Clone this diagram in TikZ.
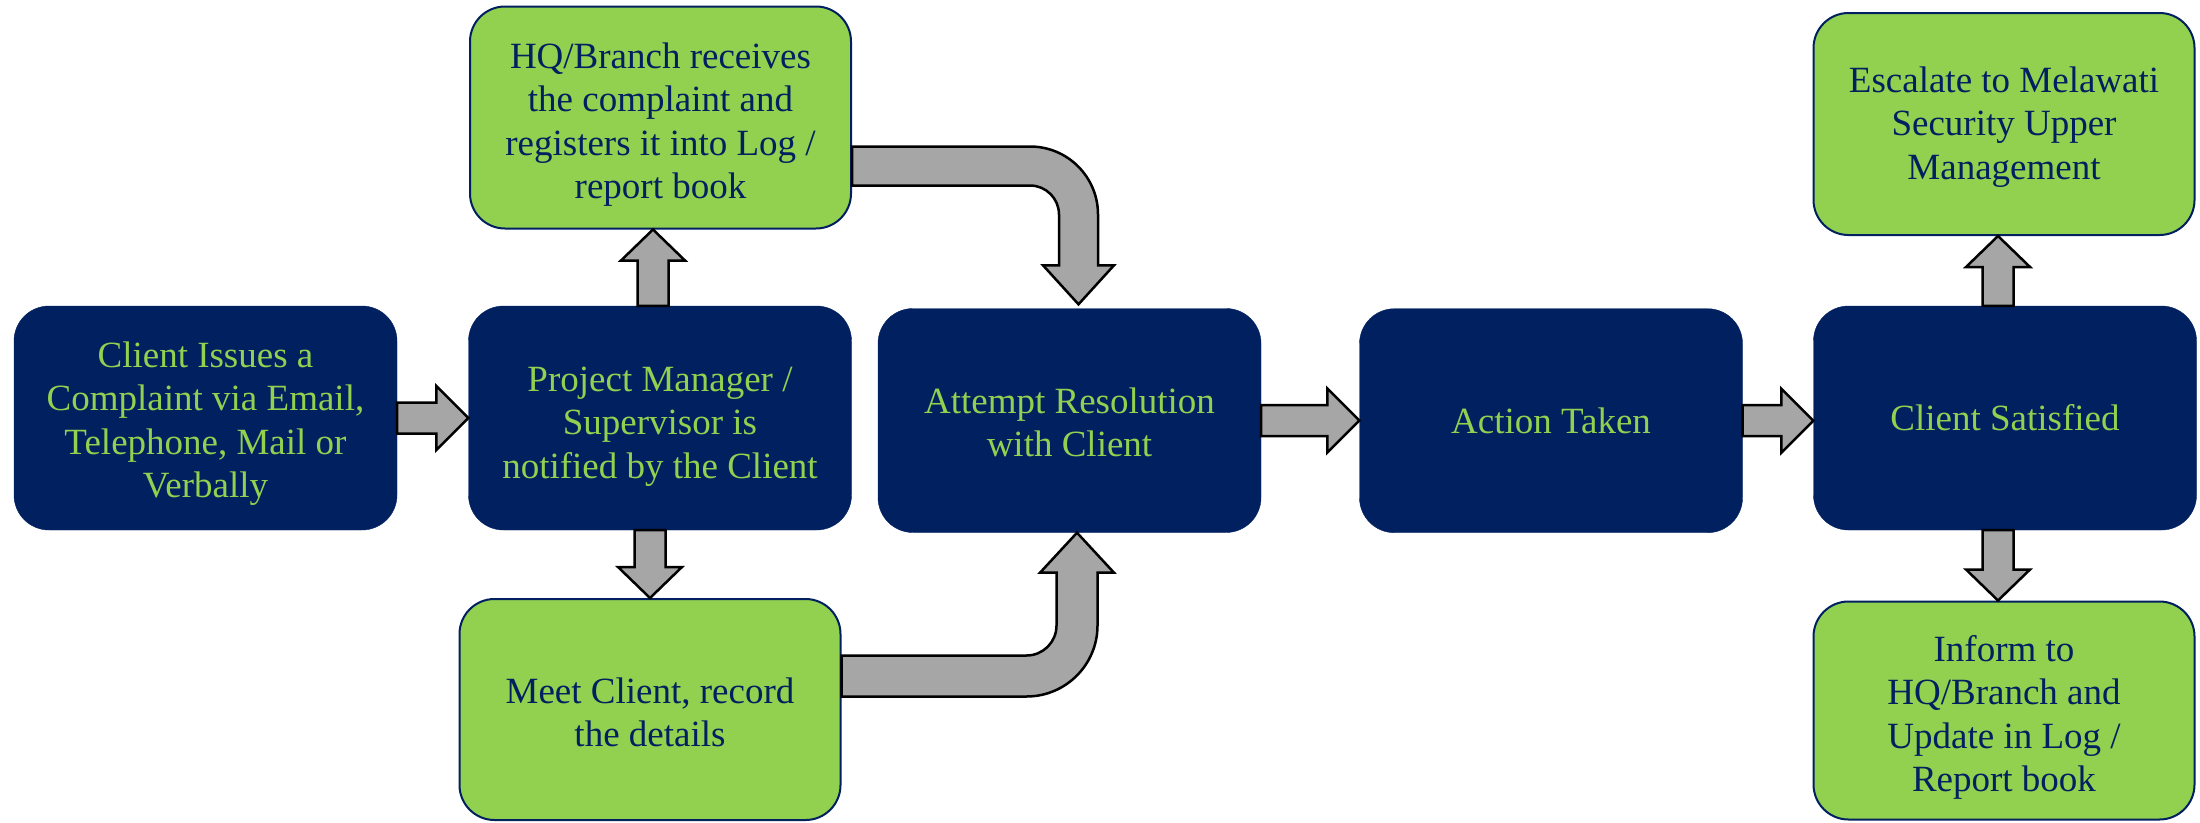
\documentclass[tikz,border=0pt]{standalone}
\usepackage{fontspec}
\setmainfont{Liberation Serif}
\usetikzlibrary{calc}
\definecolor{navy}{HTML}{002060}
\definecolor{lgreen}{HTML}{92D050}
\definecolor{agrey}{HTML}{A6A6A6}
\newcommand\boxfont{\fontsize{37}{43.5}\selectfont}
\newcommand\tpush[1]{\rule{0pt}{#1pt}}
\newcommand\rarr[2]{%
  \draw[blk] let \p1=(#1.east), \p2=(#2.west) in
    (\x1,{\y1+15.5pt}) -- ({\x2-32pt},{\y1+15.5pt}) -- ({\x2-32pt},{\y1+32pt})
    -- (\x2,\y1) -- ({\x2-32pt},{\y1-32pt}) -- ({\x2-32pt},{\y1-15.5pt})
    -- (\x1,{\y1-15.5pt}) -- cycle;}
\newcommand\uarr[3]{%
  \draw[blk] let \p1=(#1.north), \p2=(#2.south), \p3=($(#1.north)+(#3,0)$) in
    ({\x3-15.5pt},\y1) -- ({\x3-15.5pt},{\y2-31pt}) -- ({\x3-32pt},{\y2-31pt})
    -- (\x3,\y2) -- ({\x3+32pt},{\y2-31pt}) -- ({\x3+15.5pt},{\y2-31pt})
    -- ({\x3+15.5pt},\y1) -- cycle;}
\newcommand\darr[3]{%
  \draw[blk] let \p1=(#1.south), \p2=(#2.north), \p3=($(#1.south)+(#3,0)$) in
    ({\x3-15.5pt},\y1) -- ({\x3-15.5pt},{\y2+31pt}) -- ({\x3-32pt},{\y2+31pt})
    -- (\x3,\y2) -- ({\x3+32pt},{\y2+31pt}) -- ({\x3+15.5pt},{\y2+31pt})
    -- ({\x3+15.5pt},\y1) -- cycle;}
\tikzset{
  basebox/.style={rectangle, rounded corners=35pt, inner sep=0pt, align=center, font=\boxfont},
  darkbox/.style={basebox, fill=navy, draw=navy, text=lgreen, minimum width=383pt, minimum height=224pt},
  lightbox/.style={basebox, fill=lgreen, draw=navy, line width=2pt, text=navy, minimum width=381pt, minimum height=222pt},
  blk/.style={fill=agrey, draw=black, line width=2.5pt, line join=miter}
}
\begin{document}
\begin{tikzpicture}[x=1pt,y=1pt]
\useasboundingbox (0,0) rectangle (2200,-822);
% nodes
\node[darkbox] (client) at (205.5,-418) {\tpush{37}Client Issues a\\Complaint via Email,\\Telephone, Mail or\\Verbally};
\node[darkbox] (pm) at (660,-418) {\tpush{41}Project Manager /\\Supervisor is\\notified by the Client};
\node[lightbox] (hq) at (660.5,-117.5) {\tpush{40}HQ/Branch receives\\the complaint and\\registers it into Log /\\report book};
\node[lightbox, minimum height=221pt] (meet) at (650,-709.5) {\tpush{31}Meet Client, record\\the details};
\node[darkbox] (attempt) at (1069.5,-420.5) {\tpush{29}Attempt Resolution\\with Client};
\node[darkbox] (action) at (1551,-420.7) {Action Taken};
\node[darkbox] (satisfied) at (2005,-418) {Client Satisfied};
\node[lightbox] (escalate) at (2004,-124) {\tpush{31}Escalate to Melawati\\Security Upper\\Management};
\node[lightbox, minimum height=218pt] (inform) at (2004,-710.5) {\tpush{40}Inform to\\HQ/Branch and\\Update in Log /\\Report book};
% straight arrows
\rarr{client}{pm}
\rarr{attempt}{action}
\rarr{action}{satisfied}
\uarr{pm}{hq}{-7}
\darr{pm}{meet}{-10}
\uarr{satisfied}{escalate}{-7}
\darr{satisfied}{inform}{-7}
% bent arrow HQ -> Attempt
\draw[blk] let \p1=($(hq.east)+(0,-48.5)$), \p2=($(attempt.north)+(9,4)$) in
  (\x1,{\y1+19.5pt}) -- ({\x2-48.5pt},{\y1+19.5pt})
  .. controls ({\x2-48.5pt+37.6pt},{\y1+19.5pt}) and ({\x2+19.5pt},{\y1-48.5pt+37.6pt}) .. ({\x2+19.5pt},{\y1-48.5pt})
  -- ({\x2+19.5pt},{\y2+39pt}) -- ({\x2+35.5pt},{\y2+39pt}) -- (\x2,\y2)
  -- ({\x2-35.5pt},{\y2+39pt}) -- ({\x2-19.5pt},{\y2+39pt}) -- ({\x2-19.5pt},{\y1-48.5pt})
  .. controls ({\x2-19.5pt},{\y1-48.5pt+16pt}) and ({\x2-48.5pt+16pt},{\y1-19.5pt}) .. ({\x2-48.5pt},{\y1-19.5pt})
  -- (\x1,{\y1-19.5pt}) -- cycle;
% bent arrow Meet -> Attempt
\draw[blk] let \p1=($(meet.east)+(0,33.5)$), \p2=($(attempt.south)+(7.5,0)$) in
  (\x1,{\y1-20.5pt}) -- ({\x2-50.5pt},{\y1-20.5pt})
  .. controls ({\x2-50.5pt+39.2pt},{\y1-20.5pt}) and ({\x2+20.5pt},{\y1+50.5pt-39.2pt}) .. ({\x2+20.5pt},{\y1+50.5pt})
  -- ({\x2+20.5pt},{\y2-40pt}) -- ({\x2+37pt},{\y2-40pt}) -- (\x2,\y2)
  -- ({\x2-37pt},{\y2-40pt}) -- ({\x2-20.5pt},{\y2-40pt}) -- ({\x2-20.5pt},{\y1+50.5pt})
  .. controls ({\x2-20.5pt},{\y1+50.5pt-16.6pt}) and ({\x2-50.5pt+16.6pt},{\y1+20.5pt}) .. ({\x2-50.5pt},{\y1+20.5pt})
  -- (\x1,{\y1+20.5pt}) -- cycle;
\end{tikzpicture}
\end{document}
